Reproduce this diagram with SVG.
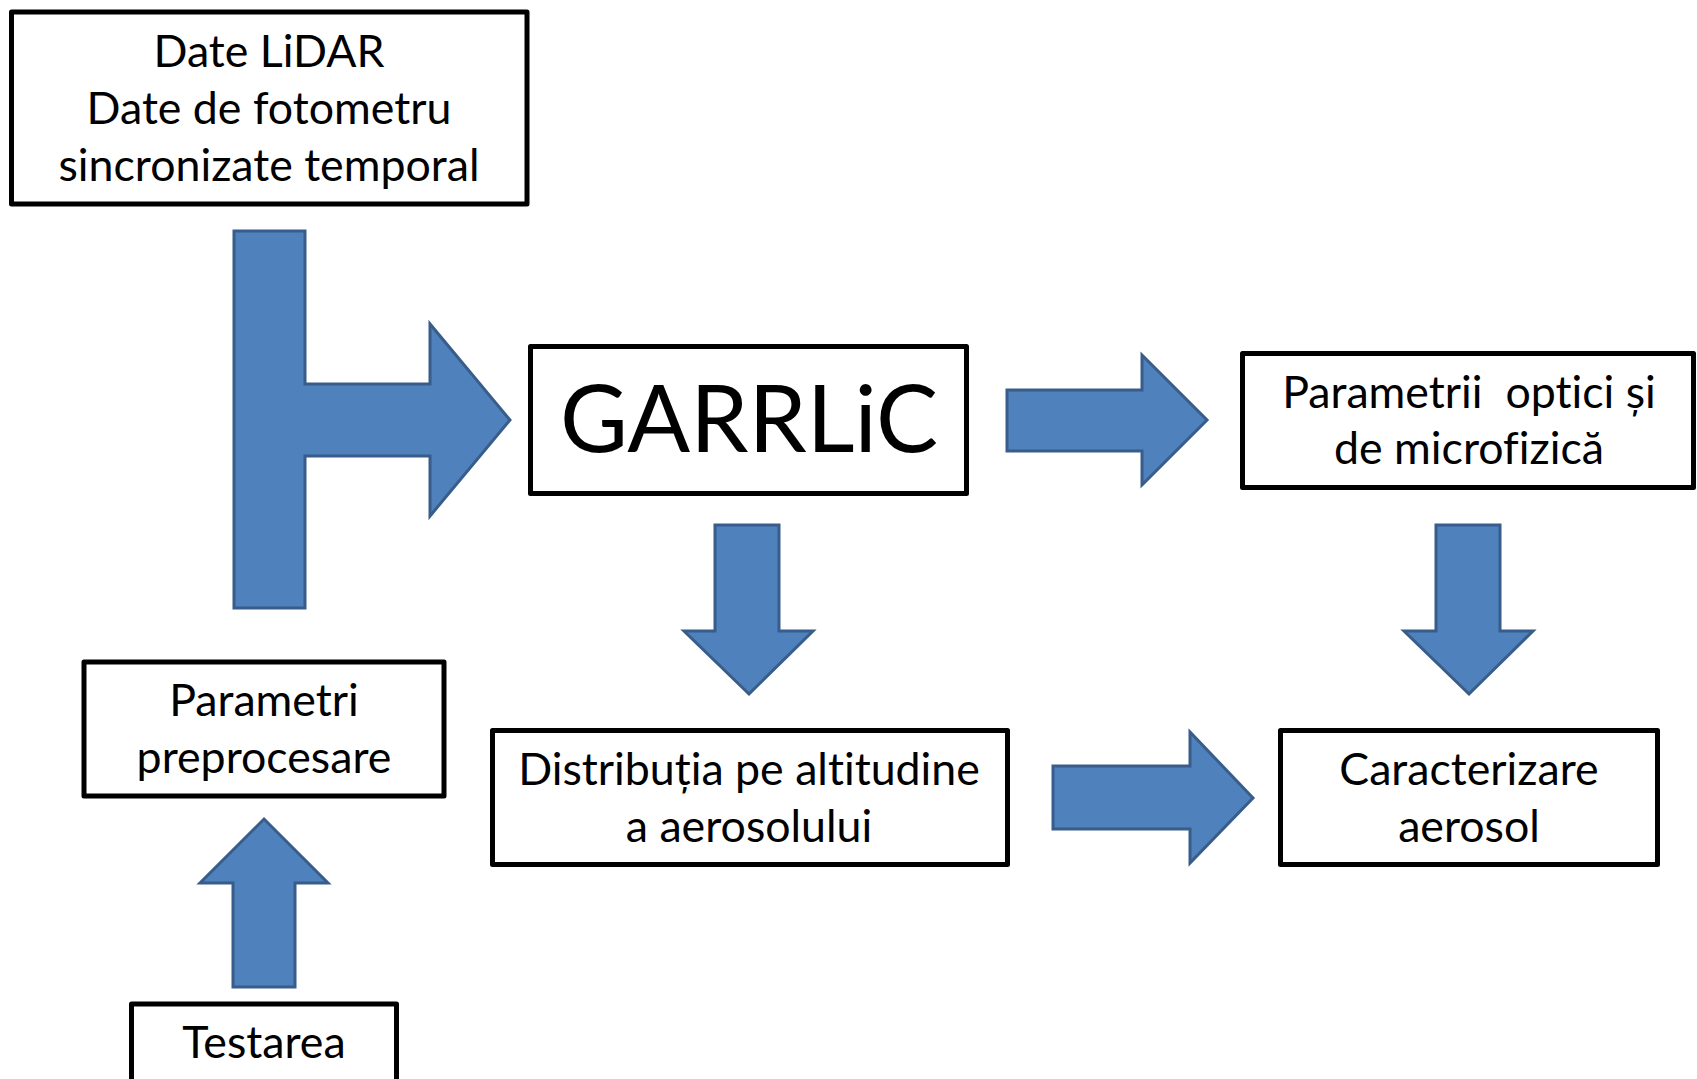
<svg xmlns="http://www.w3.org/2000/svg" width="1697" height="1079" viewBox="0 0 1697 1079">
  <style>
    .box { fill: #ffffff; stroke: #000000; stroke-width: 5; stroke-linejoin: round; }
    .lbl { font-family: Lato, "Open Sans", "Noto Sans", sans-serif; font-size: 44.7px; fill: #000000; text-anchor: middle; white-space: pre; font-variant-ligatures: none; font-feature-settings: "liga" 0, "clig" 0, "dlig" 0; }
    .big { font-size: 93px; }
    .arrow { fill: #4F81BD; stroke: #385D8A; stroke-width: 3; stroke-linejoin: miter; }
  </style>
  <rect width="1697" height="1079" fill="#ffffff"/>

  <!-- block arrows between steps -->
  <g id="connectors">
    <path class="arrow" d="M234,231 L305,231 L305,384 L430,384 L430,324 L510,420 L430,516 L430,456 L305,456 L305,608 L234,608 Z"/>
    <path class="arrow" d="M1007,390 L1142,390 L1142,355 L1207,420 L1142,485 L1142,451 L1007,451 Z"/>
    <path class="arrow" d="M715,525 L779,525 L779,631 L813,631 L749,694 L684,631 L715,631 Z"/>
    <path class="arrow" d="M1436,525 L1500,525 L1500,631 L1533,631 L1469,694 L1404,631 L1436,631 Z"/>
    <path class="arrow" d="M1053,766 L1190,766 L1190,732 L1253,798 L1190,863 L1190,829 L1053,829 Z"/>
    <path class="arrow" d="M233,987 L233,883 L200,883 L264,819 L328,883 L295,883 L295,987 Z"/>
  </g>

  <g id="input-data">
    <rect class="box" x="11.5" y="12" width="515.5" height="192"/>
    <text class="lbl" x="269" y="67">Date LiDAR</text>
    <text class="lbl" x="269" y="124">Date de fotometru</text>
    <text class="lbl" x="269" y="181">sincronizate temporal</text>
  </g>

  <g id="garrlic">
    <rect class="box" x="530.5" y="346.5" width="436" height="147"/>
    <text class="lbl big" x="749" y="452">GARRLiC</text>
  </g>

  <g id="optical-params">
    <rect class="box" x="1242.5" y="353.5" width="451" height="134"/>
    <text class="lbl" x="1469" y="408">Parametrii  optici și</text>
    <text class="lbl" x="1469" y="464">de microfizică</text>
  </g>

  <g id="altitude-distribution">
    <rect class="box" x="492.5" y="730.5" width="515" height="134"/>
    <text class="lbl" x="749" y="785">Distribuția pe altitudine</text>
    <text class="lbl" x="749" y="842">a aerosolului</text>
  </g>

  <g id="aerosol-characterization">
    <rect class="box" x="1280.5" y="730.5" width="377" height="134"/>
    <text class="lbl" x="1469" y="785">Caracterizare</text>
    <text class="lbl" x="1469" y="842">aerosol</text>
  </g>

  <g id="preprocessing-params">
    <rect class="box" x="84" y="662" width="360" height="134"/>
    <text class="lbl" x="264" y="716">Parametri</text>
    <text class="lbl" x="264" y="773">preprocesare</text>
  </g>

  <g id="testing">
    <rect class="box" x="131.5" y="1004" width="265" height="90"/>
    <text class="lbl" x="264" y="1058">Testarea</text>
  </g>
</svg>
